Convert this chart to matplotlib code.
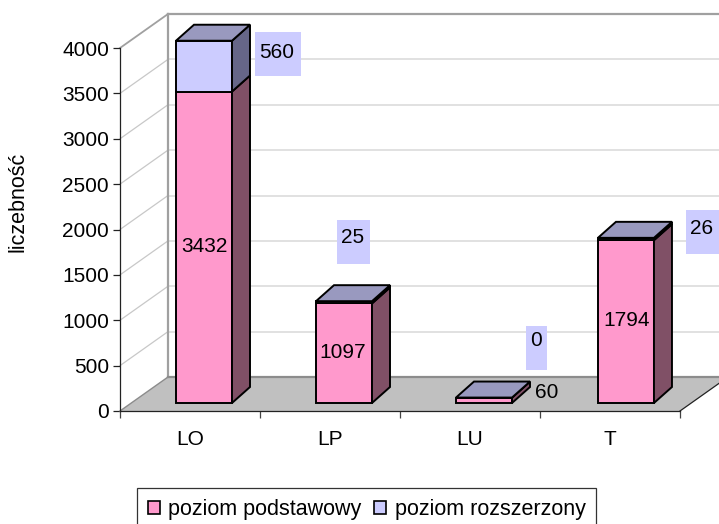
import matplotlib
matplotlib.use("Agg")
import matplotlib.pyplot as plt
from matplotlib.patches import Patch, Rectangle, Polygon

plt.rcParams['font.family'] = ['Liberation Sans', 'DejaVu Sans']
plt.rcParams['font.size'] = 15

categories = ["LO", "LP", "LU", "T"]
podstawowy = [3432, 1097, 60, 1794]
rozszerzony = [560, 25, 0, 26]
y_ticks = [0, 500, 1000, 1500, 2000, 2500, 3000, 3500, 4000]

W, H = 719, 524
PINK = '#ff99cc'
LAV = '#ccccff'

fig = plt.figure(figsize=(W / 100, H / 100), dpi=100)
# front plane of the 3D box, pixels
ax = fig.add_axes([120 / W, 1 - 411 / H, 560 / W, 363 / H])
ax.set_xlim(0, 4)
ax.set_ylim(0, 4000)
px_x = 4 / 560
px_y = 4000 / 363

# depth of the walls and of the bars
wall_dx, wall_dy = 48 * px_x, 34 * px_y
bar_dx, bar_dy = 18 * px_x, 16 * px_y
bar_lift = 8 * px_y
bar_w = 56 * px_x
bar_x = [0.4, 1.4, 2.4, 3.414]
right_end = 5


def poly(pts, fc, ec='none', lw=0, z=1):
    ax.add_patch(Polygon(pts, closed=True, facecolor=fc, edgecolor=ec, linewidth=lw,
                         zorder=z, clip_on=False, joinstyle='miter'))


def line(xs, ys, color, lw, z=1):
    ax.plot(xs, ys, color=color, lw=lw, zorder=z, clip_on=False, solid_capstyle='projecting')


# floor
poly([(0, 0), (wall_dx, wall_dy), (4 + wall_dx, wall_dy), (4, 0)], '#c0c0c0')
line([wall_dx, right_end], [wall_dy, wall_dy], '#8c8c8c', 1.6, 2)
line([4, 4 + wall_dx], [0, wall_dy], '#222222', 0.9, 2)

# grid lines on side wall and back wall
for v in y_ticks[1:-1]:
    line([0, wall_dx], [v, v + wall_dy], '#c8c8c8', 0.9)
    line([wall_dx, right_end], [v + wall_dy, v + wall_dy], '#d9d9d9', 1.1)
line([0, wall_dx], [4000, 4000 + wall_dy], '#a0a0a0', 1.3)
line([wall_dx, right_end], [4000 + wall_dy, 4000 + wall_dy], '#a0a0a0', 1.6)
line([wall_dx, wall_dx], [wall_dy, 4000 + wall_dy], '#a0a0a0', 1.6)
line([0, wall_dx], [0, wall_dy], '#8c8c8c', 1.0, 2)


def stack_segment(x, y0, y1, front, side, top, z):
    poly([(x, y0), (x + bar_w, y0), (x + bar_w, y1), (x, y1)], front, 'black', 1.4, z)
    poly([(x + bar_w, y0), (x + bar_w + bar_dx, y0 + bar_dy), (x + bar_w + bar_dx, y1 + bar_dy),
          (x + bar_w, y1)], side, 'black', 1.4, z)
    if top:
        poly([(x, y1), (x + bar_dx, y1 + bar_dy), (x + bar_w + bar_dx, y1 + bar_dy),
              (x + bar_w, y1)], '#9999bf', 'black', 1.4, z + 1)


for i in range(len(categories)):
    base = bar_lift
    stack_segment(bar_x[i], base, base + podstawowy[i], PINK, '#805066', False, 5)
    stack_segment(bar_x[i], base + podstawowy[i], base + podstawowy[i] + rozszerzony[i],
                  LAV, '#666688', True, 6)

# axes
for s in ['top', 'right']:
    ax.spines[s].set_visible(False)
for s in ['left', 'bottom']:
    ax.spines[s].set_color('#222222')
    ax.spines[s].set_linewidth(0.9)
    ax.spines[s].set_zorder(3)
ax.patch.set_visible(False)
ax.set_yticks(y_ticks)
ax.set_xticks([0, 1, 2, 3, 4])
ax.set_xticklabels([])
ax.set_xticks([0.5, 1.5, 2.5, 3.5], minor=True)
ax.set_xticklabels(categories, minor=True)
ax.tick_params(axis='x', which='major', length=5, width=0.9, color='#444444')
ax.tick_params(axis='x', which='minor', length=0, pad=14)
ax.tick_params(axis='y', length=5, width=0.9, color='#222222', pad=3)
ax.set_ylabel("")
fig.text(18 / W, 1 - 202 / H, "liczebność", rotation=90, ha='center', va='center', fontsize=15.5)

# data labels (pixel positions)
inner_pos = [(204, 247), (343, 353), (547, 393), (627, 320)]
outer_pos = [(277, 53), (353, 238), (536, 340), (702, 229)]
outer_box = [(255, 32, 46, 44), (337, 220, 33, 44), (526, 326, 21, 44), (686, 210, 34, 44)]
for i in range(len(categories)):
    fig.text(inner_pos[i][0] / W, 1 - inner_pos[i][1] / H, str(podstawowy[i]),
             ha='center', va='center', zorder=10)
    bx, by, bw, bh = outer_box[i]
    fig.add_artist(Rectangle((bx / W, 1 - (by + bh) / H), bw / W, bh / H, facecolor=LAV,
                             edgecolor='none', transform=fig.transFigure, zorder=8))
    fig.text(outer_pos[i][0] / W, 1 - outer_pos[i][1] / H, str(rozszerzony[i]),
             ha='center', va='center', zorder=10)

handles = [Patch(facecolor=PINK, edgecolor='black', linewidth=1.2, label="poziom podstawowy"),
           Patch(facecolor=LAV, edgecolor='black', linewidth=1.2, label="poziom rozszerzony")]
leg = fig.legend(handles=handles, ncol=2, loc='upper left',
                 bbox_to_anchor=(137 / W, 1 - 488 / H), fontsize=15.5, fancybox=False,
                 edgecolor='#333333', framealpha=1, borderpad=0.5, handlelength=0.55,
                 handleheight=0.55, handletextpad=0.4, columnspacing=0.6, borderaxespad=0)
leg.get_frame().set_linewidth(0.9)

fig.savefig("out.png", dpi=100)
